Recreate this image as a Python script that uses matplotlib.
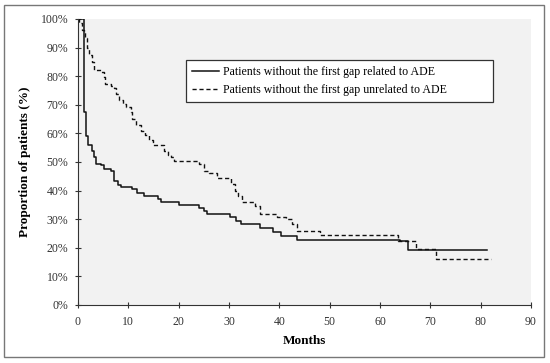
import matplotlib
matplotlib.use("Agg")
import matplotlib.pyplot as plt
from matplotlib.patches import Rectangle
from matplotlib.ticker import PercentFormatter

# Kaplan-Meier style steps (months, % of patients)
related_t = [0, 1.1, 1.5, 1.9, 2.7, 3.2, 3.6, 4.5, 5.2, 6.5, 7.1, 7.9, 8.5, 10.8,
             11.8, 13.1, 15.9, 16.4, 20.0, 24.0, 25.0, 25.7, 30.3, 31.3, 32.3,
             36.2, 38.8, 40.3, 43.5, 64.0, 65.6, 81.2]
related_p = [100, 67.5, 59.0, 56.0, 54.0, 51.7, 49.4, 48.8, 47.7, 47.0, 43.5, 41.8,
             41.2, 40.4, 39.0, 38.2, 37.0, 35.9, 35.0, 34.0, 33.0, 31.8, 30.6, 29.5,
             28.3, 26.8, 25.6, 24.2, 22.8, 22.4, 19.2, 19.2]

unrelated_t = [0, 0.3, 0.8, 1.1, 1.4, 1.8, 2.2, 2.7, 3.1, 3.2, 4.6, 5.1, 5.3, 6.5,
               7.2, 7.5, 8.2, 8.9, 9.5, 10.5, 10.8, 11.5, 12.5, 13.3, 14.1, 15.0,
               17.0, 17.8, 18.4, 19.1, 24.0, 25.0, 26.0, 27.7, 30.5, 31.2, 31.8,
               32.5, 35.2, 36.1, 39.6, 41.3, 42.6, 43.6, 48.1, 63.6, 67.2, 71.2, 82.0]
unrelated_p = [100, 98.5, 96.0, 95.0, 93.2, 89.7, 87.4, 85.0, 82.7, 82.0, 81.5, 79.8,
               77.4, 76.5, 75.7, 73.9, 71.6, 70.4, 69.2, 67.5, 65.1, 62.8, 61.0, 59.3,
               57.8, 55.8, 54.0, 52.6, 51.7, 50.5, 49.4, 47.0, 46.0, 44.4, 42.3, 40.0,
               38.2, 35.9, 34.7, 31.8, 30.9, 30.1, 28.3, 25.9, 24.4, 22.5, 19.5, 16.2,
               16.2]

x_ticks = list(range(0, 91, 10))
y_ticks = list(range(0, 101, 10))

plt.rcParams['font.family'] = ['Liberation Serif', 'DejaVu Serif']

fig = plt.figure(figsize=(5.5, 3.63), dpi=100)
ax = fig.add_axes([0.1418, 0.1598, 0.8236, 0.7879])
ax.set_facecolor('#f2f2f2')

ax.step(related_t, related_p, where='post', color='#111111', lw=1.1,
        label='Patients without the first gap related to ADE')
ax.step(unrelated_t, unrelated_p, where='post', color='#111111', lw=1.0,
        linestyle=(0, (3, 2)),
        label='Patients without the first gap unrelated to ADE')

ax.set_xlim(0, 90)
ax.set_ylim(0, 100)
ax.set_xticks(x_ticks)
ax.set_yticks(y_ticks)
ax.yaxis.set_major_formatter(PercentFormatter(decimals=0))
ax.tick_params(direction='inout', length=4, width=0.8, labelsize=8.5,
               colors='#333333', pad=5)
ax.tick_params(axis='x', pad=6)

for side in ['top', 'right']:
    ax.spines[side].set_visible(False)
for side in ['left', 'bottom']:
    ax.spines[side].set_color('#333333')
    ax.spines[side].set_linewidth(0.8)

ax.set_xlabel('Months', fontsize=9.5, fontweight='bold', labelpad=5)
ax.set_ylabel('Proportion of patients (%)', fontsize=9.5, fontweight='bold',
              labelpad=7)

leg = ax.legend(loc='upper left', bbox_to_anchor=(0.238, 0.71, 0.678, 0.147),
                mode='expand', borderaxespad=0, fontsize=8.6, frameon=True,
                fancybox=False, handlelength=2.2, handletextpad=0.4,
                borderpad=0.55, labelspacing=0.45)
leg.get_frame().set_edgecolor('#333333')
leg.get_frame().set_linewidth(0.9)
leg.get_frame().set_facecolor('white')
leg.get_frame().set_alpha(1)

# thin grey frame around the whole figure
fig.patches.append(Rectangle((0.0073, 0.0165), 0.982, 0.97, transform=fig.transFigure,
                             fill=False, edgecolor='#777777', lw=1.0))

fig.savefig('out.png', dpi=100)
